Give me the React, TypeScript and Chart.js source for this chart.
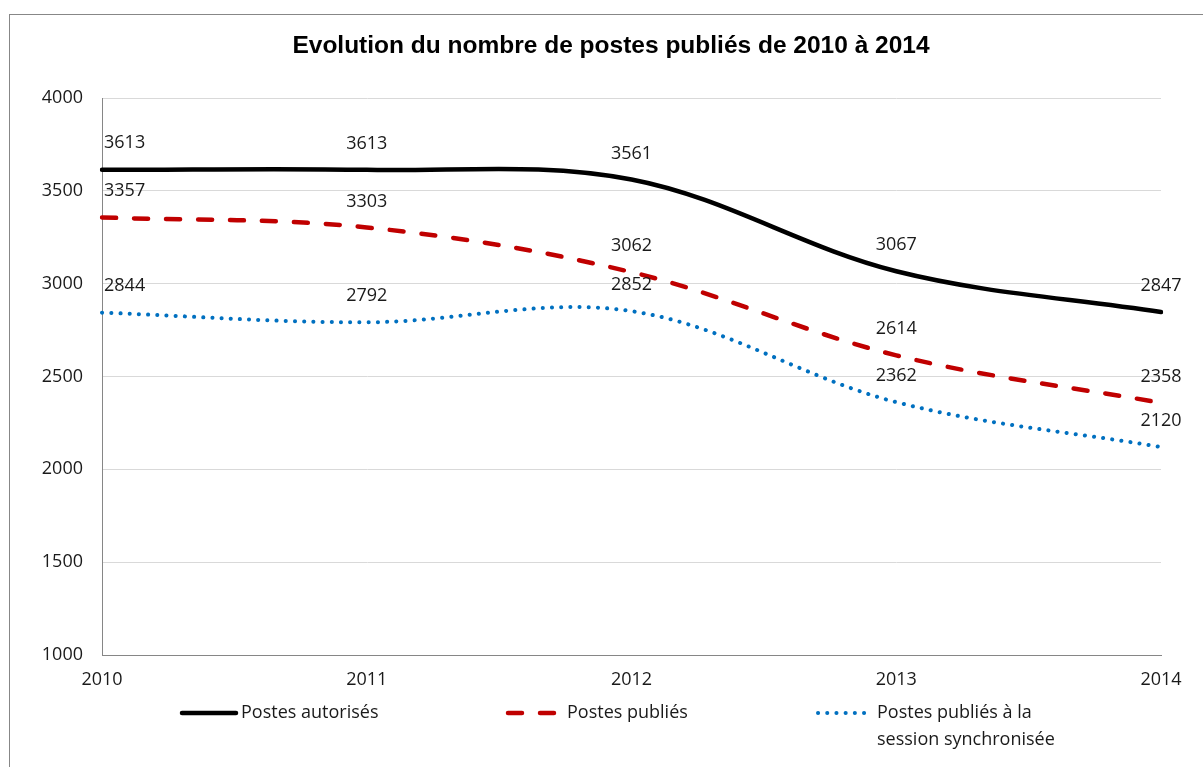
import React, { useEffect, useRef } from "react";
import { Chart, registerables } from "chart.js";

Chart.register(...registerables);

const years = ["2010", "2011", "2012", "2013", "2014"];
const postesAutorises = [3613, 3613, 3561, 3067, 2847];
const postesPublies = [3357, 3303, 3062, 2614, 2358];
const postesSession = [2844, 2792, 2852, 2362, 2120];
const yTickValues = [1000, 1500, 2000, 2500, 3000, 3500, 4000];
const chartTitle = "Evolution du nombre de postes publiés de 2010 à 2014";
const legendLabels = [
  ["Postes autorisés"],
  ["Postes publiés"],
  ["Postes publiés à la", "session synchronisée"],
];

const FONT = "'Open Sans', 'Noto Sans', sans-serif";
const TEXT = "#1a1a1a";

const styles = [
  { color: "#000000", dash: [] as number[], width: 4.5, cap: "round" as CanvasLineCap },
  { color: "#c00000", dash: [14, 18], width: 4.5, cap: "round" as CanvasLineCap },
  { color: "#0070c0", dash: [0.1, 9.1], width: 4, cap: "round" as CanvasLineCap },
];

const legendPos = [
  { x0: 172, x1: 226, tx: 231 },
  { x0: 498, x1: 547, tx: 557 },
  { x0: 808, x1: 857, tx: 867 },
];

const overlayPlugin = {
  id: "overlay",
  afterDatasetsDraw(chart: any) {
    const ctx = chart.ctx as CanvasRenderingContext2D;
    ctx.save();
    ctx.font = `18px ${FONT}`;
    ctx.fillStyle = TEXT;
    ctx.textBaseline = "middle";
    chart.data.datasets.forEach((ds: any, di: number) => {
      const meta = chart.getDatasetMeta(di);
      meta.data.forEach((pt: any, i: number) => {
        const v = ds.data[i];
        if (i === 0) {
          ctx.textAlign = "left";
          ctx.fillText(String(v), pt.x + 2, pt.y - 27);
        } else {
          ctx.textAlign = "center";
          ctx.fillText(String(v), pt.x, pt.y - 26);
        }
      });
    });
    ctx.restore();
  },
  afterDraw(chart: any) {
    const ctx = chart.ctx as CanvasRenderingContext2D;
    ctx.save();
    // title
    ctx.font = `bold 24.5px 'Liberation Sans', Arial, sans-serif`;
    ctx.fillStyle = "#000";
    ctx.textAlign = "center";
    ctx.textBaseline = "middle";
    ctx.fillText(chartTitle, 601, 31);
    // legend
    const ly = 698;
    legendLabels.forEach((lines, i) => {
      const s = styles[i];
      const p = legendPos[i];
      ctx.beginPath();
      ctx.strokeStyle = s.color;
      ctx.lineWidth = s.width;
      ctx.lineCap = s.cap;
      ctx.setLineDash(s.dash);
      ctx.moveTo(p.x0, ly);
      ctx.lineTo(p.x1, ly);
      ctx.stroke();
      ctx.setLineDash([]);
      ctx.font = `18px ${FONT}`;
      ctx.fillStyle = TEXT;
      ctx.textAlign = "left";
      ctx.textBaseline = "middle";
      lines.forEach((t, li) => ctx.fillText(t, p.tx, ly + li * 27));
    });
    ctx.restore();
  },
};

export default function App() {
  const ref = useRef<HTMLCanvasElement | null>(null);

  useEffect(() => {
    if (!ref.current) return;
    const series = [postesAutorises, postesPublies, postesSession];
    const chart = new Chart(ref.current, {
      type: "line",
      data: {
        labels: years,
        datasets: series.map((d, i) => ({
          label: legendLabels[i].join(" "),
          data: d,
          borderColor: styles[i].color,
          borderWidth: styles[i].width,
          borderDash: styles[i].dash,
          borderCapStyle: styles[i].cap,
          pointRadius: 0,
          pointHoverRadius: 0,
          tension: 0.35,
          fill: false,
        })),
      },
      options: {
        animation: false,
        responsive: false,
        devicePixelRatio: 1,
        layout: { padding: { left: 0, right: 42, top: 83, bottom: 72 } },
        plugins: {
          legend: { display: false },
          title: { display: false },
          tooltip: { enabled: false },
        },
        scales: {
          x: {
            offset: false,
            grid: { display: false, drawTicks: false },
            border: { display: true, color: "#868686", width: 1 },
            ticks: {
              color: TEXT,
              font: { family: FONT, size: 18 },
              padding: 14,
              maxRotation: 0,
              autoSkip: false,
            },
            afterFit: (s: any) => {
              s.height = 40;
            },
          },
          y: {
            min: 1000,
            max: 4000,
            grid: { color: "#d9d9d9", lineWidth: 1, drawTicks: false },
            border: { display: true, color: "#868686", width: 1 },
            afterBuildTicks: (s: any) => {
              s.ticks = yTickValues.map((v) => ({ value: v }));
            },
            ticks: {
              color: TEXT,
              font: { family: FONT, size: 18 },
              padding: 19,
              callback: (v: any) => String(v),
            },
            afterFit: (s: any) => {
              s.width = 92;
            },
          },
        },
      },
      plugins: [overlayPlugin],
    });
    return () => chart.destroy();
  }, []);

  return (
    <div
      style={{
        position: "absolute",
        left: 9,
        top: 14,
        width: 1194,
        height: 753,
        borderLeft: "1px solid #878787",
        borderTop: "1px solid #878787",
        background: "#fff",
        overflow: "hidden",
      }}
    >
      <canvas ref={ref} width={1193} height={752} style={{ display: "block" }} />
    </div>
  );
}
